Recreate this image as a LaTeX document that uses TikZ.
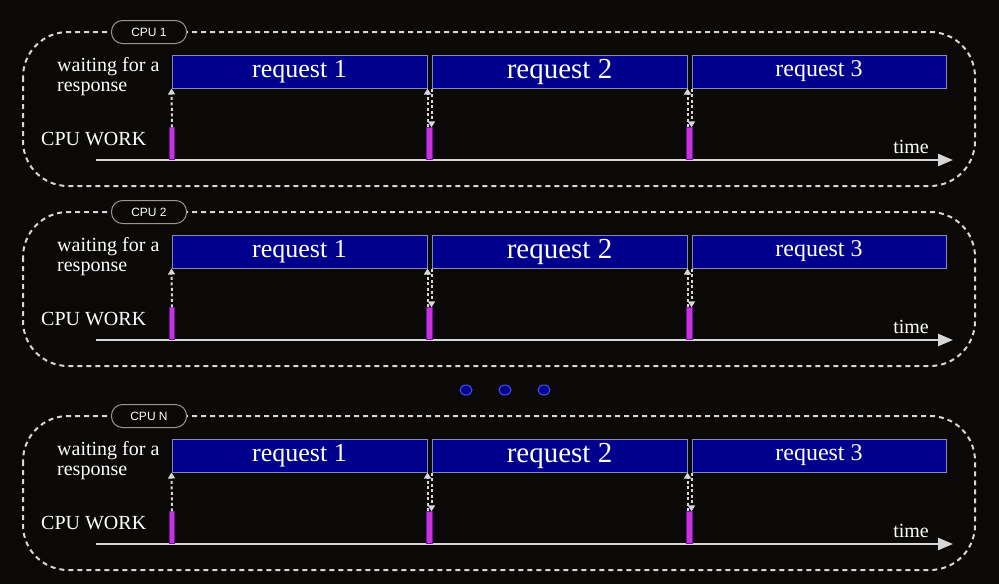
\documentclass[tikz,border=0pt]{standalone}
\usepackage{fontspec}
\setmainfont{Liberation Serif}
\newfontfamily\pillfont{Liberation Sans}
\usetikzlibrary{arrows.meta,positioning,calc,shapes.geometric}
\definecolor{bgcolor}{RGB}{10,9,7}
\definecolor{reqcolor}{RGB}{0,0,140}
\definecolor{reqedge}{RGB}{135,135,185}
\definecolor{workcolor}{RGB}{200,50,220}
\definecolor{workedge}{RGB}{110,20,160}
\definecolor{linecolor}{RGB}{215,215,215}

\begin{document}
\begin{tikzpicture}[x=1pt,y=-1pt,
  panel/.style={draw=linecolor,line width=2pt,dash pattern=on 5pt off 4pt,rounded corners=45pt},
  pill/.style={draw=linecolor!70!black,line width=1pt,fill=bgcolor,rounded corners=11pt,
    minimum width=75pt,minimum height=23pt,inner sep=0pt,text=white,font=\pillfont\fontsize{12}{12}\selectfont},
  reqbox/.style={draw=reqedge,line width=1pt,fill=reqcolor,minimum height=33pt,inner sep=0pt,text=white},
  workbar/.style={draw=workedge,line width=0.6pt,fill=workcolor,minimum width=5.5pt,minimum height=32pt,inner sep=0pt},
  lbl/.style={text=white,inner sep=0pt,font=\fontsize{20}{20}\selectfont},
  waitline/.style={draw=linecolor,line width=2pt,dash pattern=on 3pt off 2.5pt,-{Triangle[length=6pt,width=7pt]}},
  axis/.style={draw=linecolor,line width=2.5pt,-{Triangle[length=15pt,width=12pt]}}
]
\fill[bgcolor] (0,0) rectangle (999,584);
\useasboundingbox (0,0) rectangle (999,584);

\foreach \o/\cpu in {0/1,180/2,384/N}{
  % dashed frame and its label
  \draw[panel] (23,32+\o) rectangle (975,186+\o);
  \node[pill] (cpu-\cpu) at (149,32+\o) {CPU \cpu};
  % the three requests
  \node[reqbox,minimum width=255pt,font=\fontsize{26}{26}\selectfont] (req1-\cpu) at (299.5,71.5+\o) {request 1};
  \node[reqbox,minimum width=255pt,font=\fontsize{29}{29}\selectfont] (req2-\cpu) at (559.5,71.5+\o) {request 2};
  \node[reqbox,minimum width=254pt,font=\fontsize{24}{24}\selectfont] (req3-\cpu) at (819,71.5+\o) {request 3};
  \node[lbl,anchor=west,align=left] (wait-\cpu) at (57,77+\o) {waiting for a\\response};
  \node[lbl,anchor=west] (work-\cpu) at (41,139+\o) {CPU WORK};
  % time axis
  \coordinate (t0-\cpu) at (96,160+\o);
  \coordinate (t1-\cpu) at (953,160+\o);
  \draw[axis] (t0-\cpu) -- (t1-\cpu);
  \node[lbl,anchor=south east] (time-\cpu) at (929,154+\o) {time};
  % short CPU bursts
  \node[workbar,anchor=south] (bar1-\cpu) at (172,160+\o) {};
  \node[workbar,anchor=south] (bar2-\cpu) at (429.5,160+\o) {};
  \node[workbar,anchor=south] (bar3-\cpu) at (689.5,160+\o) {};
  % send / receive
  \draw[waitline] (bar1-\cpu.north) -- (req1-\cpu.south west);
  \draw[waitline] (bar2-\cpu.north -| req1-\cpu.south east) -- (req1-\cpu.south east);
  \draw[waitline] (req2-\cpu.south west) -- (bar2-\cpu.north -| req2-\cpu.south west);
  \draw[waitline] (bar3-\cpu.north -| req2-\cpu.south east) -- (req2-\cpu.south east);
  \draw[waitline] (req3-\cpu.south west) -- (bar3-\cpu.north -| req3-\cpu.south west);
}

% more CPUs
\foreach \x in {466,505,544}
  \node[ellipse,draw=blue!70!white,line width=1pt,fill=reqcolor,minimum width=12pt,minimum height=10pt,inner sep=0pt] (dot\x) at (\x,390) {};
\end{tikzpicture}
\end{document}
